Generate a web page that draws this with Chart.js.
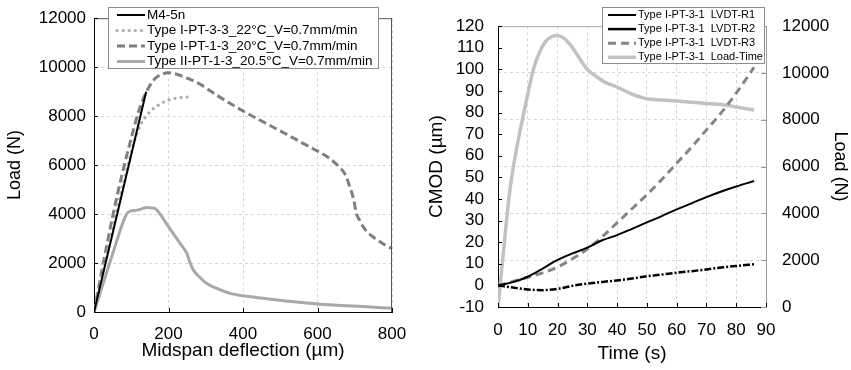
<!DOCTYPE html>
<html>
<head>
<meta charset="utf-8">
<script src="https://cdn.jsdelivr.net/npm/chart.js@4"></script>
<style>
  body { margin: 0; background: #fff; }
  #wrap { position: relative; width: 851px; height: 370px; }
  #leftBox { position: absolute; left: 0; top: 0; }
  #rightBox { position: absolute; left: 420px; top: 0; }
</style>
</head>
<body>
<div id="wrap">
  <div id="leftBox"><canvas id="loadChart" width="430" height="370"></canvas></div>
  <div id="rightBox"><canvas id="cmodChart" width="431" height="370"></canvas></div>
</div>
<script>
// ---- left panel: load vs midspan deflection ----
const deflTicks = [0, 200, 400, 600, 800];
const loadTicks = [0, 2000, 4000, 6000, 8000, 10000, 12000];

const m45nDefl = [0, 140];
const m45nLoad = [0, 9000];

const pt33Defl = [0, 20, 50, 80, 110, 125, 140, 155, 170, 190, 210, 230, 252];
const pt33Load = [0, 1400, 3400, 5300, 7050, 7650, 8000, 8250, 8420, 8600, 8700, 8750, 8780];

const pt13Defl = [0, 25, 50, 75, 100, 120, 135, 150, 165, 180, 200, 220, 250, 285, 330, 400, 450, 508, 560, 598, 630, 660, 675, 687, 697, 705, 715, 723, 735, 750, 770, 785, 800];
const pt13Load = [0, 2000, 3900, 5600, 7100, 8200, 8800, 9250, 9550, 9700, 9770, 9720, 9550, 9300, 8850, 8210, 7800, 7330, 6900, 6590, 6300, 5900, 5600, 5100, 4600, 4000, 3700, 3470, 3250, 3060, 2850, 2700, 2590];

const pt2Defl = [0, 20, 40, 60, 80, 90, 100, 115, 130, 140, 155, 165, 177, 195, 213, 231, 249, 258, 267, 285, 302, 330, 365, 401, 454, 508, 570, 642, 720, 800];
const pt2Load = [0, 950, 1900, 2850, 3750, 4050, 4130, 4160, 4220, 4270, 4250, 4220, 4010, 3600, 3200, 2800, 2400, 2000, 1710, 1400, 1170, 960, 760, 660, 557, 460, 370, 285, 220, 150];

// ---- right panel: CMOD / load vs time ----
const timeTicks = [0, 10, 20, 30, 40, 50, 60, 70, 80, 90];
const cmodTicks = [-10, 0, 10, 20, 30, 40, 50, 60, 70, 80, 90, 100, 110, 120];
const rightLoadTicks = [0, 2000, 4000, 6000, 8000, 10000, 12000];

const lvdtTime = [0, 5, 10, 15, 20, 25, 30, 35, 40, 45, 50, 55, 60, 65, 70, 75, 80, 86];
const lvdtR1 = [0, 1.5, 4, 7.8, 11.8, 14.8, 17.5, 20.9, 23.3, 26.2, 29.2, 32.1, 35.2, 38.0, 40.9, 43.5, 45.8, 48.3];
const lvdtR2 = [0, -1, -1.9, -2.2, -1.6, -0.2, 0.8, 1.6, 2.3, 3.2, 4.2, 5.0, 5.9, 6.6, 7.4, 8.3, 9.0, 9.8];
const lvdtR3 = [0, 1.8, 3.8, 5.8, 8.5, 12.3, 16.8, 22.5, 29.0, 35.5, 42.0, 49.0, 56.5, 64.0, 72.0, 80.0, 89.0, 101];

const loadTime = [0, 2, 4, 6, 8, 10, 12, 14, 16, 18, 20, 22, 24, 26, 28, 30, 33, 36, 40, 45, 50, 55, 60, 65, 70, 75, 80, 86];
const loadTimeN = [0, 2600, 5000, 6600, 7900, 9100, 10200, 10900, 11350, 11550, 11600, 11500, 11250, 10900, 10500, 10150, 9850, 9600, 9400, 9100, 8900, 8850, 8800, 8750, 8700, 8650, 8550, 8420];

const pts = (xs, ys) => xs.map((x, i) => ({ x: x, y: ys[i] }));
const plain = v => String(v);

// legend drawn as a box inside the plot, like the original figure
const boxLegend = {
  id: 'boxLegend',
  afterDraw(chart, args, o) {
    const ctx = chart.ctx;
    ctx.save();
    ctx.fillStyle = '#fff';
    ctx.fillRect(o.x, o.y, o.w, o.h);
    ctx.strokeStyle = '#8c8c8c';
    ctx.lineWidth = 1;
    ctx.strokeRect(o.x + 0.5, o.y + 0.5, o.w, o.h);
    ctx.font = o.font;
    ctx.textBaseline = 'middle';
    chart.data.datasets.forEach((ds, i) => {
      const y = o.y + o.top + i * o.row;
      ctx.save();
      ctx.strokeStyle = ds.borderColor;
      ctx.lineWidth = ds.borderWidth;
      ctx.setLineDash(ds.legendDash || ds.borderDash || []);
      ctx.lineCap = ds.borderCapStyle || 'butt';
      ctx.beginPath();
      ctx.moveTo(o.x + o.lineX0, y);
      ctx.lineTo(o.x + o.lineX1, y);
      ctx.stroke();
      ctx.restore();
      ctx.fillStyle = '#000';
      ctx.fillText(ds.label, o.x + o.textX, y);
    });
    ctx.restore();
  }
};

// top/right frame and the small inward tick marks
const frameTicks = {
  id: 'frameTicks',
  afterDatasetsDraw(chart, args, o) {
    const { ctx, chartArea: a } = chart;
    ctx.save();
    ctx.lineWidth = 1;
    ctx.strokeStyle = o.frameColor;
    ctx.beginPath();
    ctx.moveTo(a.left, a.top + 0.5);
    ctx.lineTo(a.right, a.top + 0.5);
    if (o.rightEdge) {
      ctx.moveTo(a.right - 0.5, a.top);
      ctx.lineTo(a.right - 0.5, a.bottom);
    }
    ctx.stroke();
    (o.marks || []).forEach(m => {
      const s = chart.scales[m.id];
      ctx.strokeStyle = m.color || '#000';
      ctx.beginPath();
      s.ticks.forEach(t => {
        const p = Math.round(s.getPixelForValue(t.value)) + 0.5;
        if (m.side === 'left') { ctx.moveTo(a.left, p); ctx.lineTo(a.left + m.len, p); }
        else if (m.side === 'right') { ctx.moveTo(a.right, p); ctx.lineTo(a.right - m.len, p); }
        else { ctx.moveTo(p, a.bottom); ctx.lineTo(p, a.bottom - m.len); }
      });
      ctx.stroke();
    });
    ctx.restore();
  }
};

const FONT = '"Liberation Sans", Arial, sans-serif';
const gridStyle = { color: '#d6d6d6', drawTicks: false };

new Chart(document.getElementById('loadChart'), {
  type: 'line',
  data: {
    datasets: [{
      label: 'M4-5n',
      data: pts(m45nDefl, m45nLoad),
      borderColor: '#000',
      borderWidth: 2
    }, {
      label: 'Type I-PT-3-3_22°C_V=0.7mm/min',
      data: pts(pt33Defl, pt33Load),
      borderColor: '#adadad',
      borderWidth: 3.2,
      borderDash: [0.1, 6],
      borderCapStyle: 'round'
    }, {
      label: 'Type I-PT-1-3_20°C_V=0.7mm/min',
      data: pts(pt13Defl, pt13Load),
      borderColor: '#7f7f7f',
      borderWidth: 3,
      borderDash: [8, 4]
    }, {
      label: 'Type II-PT-1-3_20.5°C_V=0.7mm/min',
      data: pts(pt2Defl, pt2Load),
      borderColor: '#a8a8a8',
      borderWidth: 3
    }]
  },
  options: {
    responsive: false,
    animation: false,
    devicePixelRatio: 1,
    layout: { padding: { top: 17, right: 38, left: 0, bottom: 0 } },
    elements: { point: { radius: 0 }, line: { cubicInterpolationMode: 'monotone', fill: false } },
    scales: {
      x: {
        type: 'linear', min: 0, max: 800,
        afterBuildTicks: s => { s.ticks = deflTicks.map(v => ({ value: v })); },
        afterFit: s => { s.height = 58; },
        grid: gridStyle,
        border: { color: '#000', dash: [3, 3] },
        ticks: { color: '#000', padding: 12, maxRotation: 0, autoSkip: false, callback: plain, font: { family: FONT, size: 17 } },
        title: { display: true, text: 'Midspan deflection (µm)', color: '#000', padding: { top: 0, bottom: 8 }, font: { family: FONT, size: 19 } }
      },
      y: {
        min: 0, max: 12000,
        afterBuildTicks: s => { s.ticks = loadTicks.map(v => ({ value: v })); },
        afterFit: s => { s.width = 94; },
        grid: gridStyle,
        border: { color: '#000', dash: [3, 3] },
        ticks: { color: '#000', padding: 8, autoSkip: false, callback: plain, font: { family: FONT, size: 17 } },
        title: { display: true, text: 'Load (N)', color: '#000', padding: { top: 4, bottom: 0 }, font: { family: FONT, size: 18 } }
      }
    },
    plugins: {
      legend: { display: false },
      tooltip: { enabled: false },
      boxLegend: { x: 108, y: 7, w: 270, h: 61, top: 8, row: 15.5, lineX0: 9, lineX1: 37, textX: 39, font: '13.5px ' + FONT },
      frameTicks: {
        frameColor: '#555', rightEdge: true,
        marks: [{ id: 'y', side: 'left', len: 4 }, { id: 'x', side: 'bottom', len: 4 }]
      }
    }
  },
  plugins: [frameTicks, boxLegend]
});

new Chart(document.getElementById('cmodChart'), {
  type: 'line',
  data: {
    datasets: [{
      label: 'Type I-PT-3-1  LVDT-R1',
      data: pts(lvdtTime, lvdtR1),
      borderColor: '#000',
      borderWidth: 2,
      yAxisID: 'y'
    }, {
      label: 'Type I-PT-3-1  LVDT-R2',
      data: pts(lvdtTime, lvdtR2),
      borderColor: '#000',
      borderWidth: 2.5,
      borderDash: [7, 2, 2, 2],
      legendDash: [],
      yAxisID: 'y'
    }, {
      label: 'Type I-PT-3-1  LVDT-R3',
      data: pts(lvdtTime, lvdtR3),
      borderColor: '#858585',
      borderWidth: 3,
      borderDash: [8, 5],
      yAxisID: 'y'
    }, {
      label: 'Type I-PT-3-1  Load-Time',
      data: pts(loadTime, loadTimeN),
      borderColor: '#c2c2c2',
      borderWidth: 3.5,
      yAxisID: 'y2'
    }]
  },
  options: {
    responsive: false,
    animation: false,
    devicePixelRatio: 1,
    layout: { padding: { top: 17, right: 0, left: 0, bottom: 0 } },
    elements: { point: { radius: 0 }, line: { cubicInterpolationMode: 'monotone', fill: false } },
    scales: {
      x: {
        type: 'linear', min: 0, max: 90,
        afterBuildTicks: s => { s.ticks = timeTicks.map(v => ({ value: v })); },
        afterFit: s => { s.height = 63; },
        grid: gridStyle,
        border: { color: '#000', dash: [3, 3] },
        ticks: { color: '#000', padding: 13, maxRotation: 0, autoSkip: false, callback: plain, font: { family: FONT, size: 17 } },
        title: { display: true, text: 'Time (s)', color: '#000', padding: { top: 0, bottom: 5 }, font: { family: FONT, size: 19 } }
      },
      y: {
        position: 'left', min: -10, max: 120,
        afterBuildTicks: s => { s.ticks = cmodTicks.map(v => ({ value: v })); },
        afterFit: s => { s.width = 78; },
        grid: { display: false, drawTicks: false },
        border: { color: '#000' },
        ticks: { color: '#000', padding: 14, autoSkip: false, callback: plain, font: { family: FONT, size: 17 } },
        title: { display: true, text: 'CMOD (µm)', color: '#000', padding: { top: 5, bottom: 0 }, font: { family: FONT, size: 19 } }
      },
      y2: {
        position: 'right', min: 0, max: 12000,
        afterBuildTicks: s => { s.ticks = rightLoadTicks.map(v => ({ value: v })); },
        afterFit: s => { s.width = 85; },
        grid: gridStyle,
        border: { color: '#9a9a9a', dash: [3, 3] },
        ticks: { color: '#000', padding: 16, autoSkip: false, callback: plain, font: { family: FONT, size: 17 } },
        title: { display: true, text: 'Load (N)', color: '#000', padding: { top: 0, bottom: 0 }, font: { family: FONT, size: 18 } }
      }
    },
    plugins: {
      legend: { display: false },
      tooltip: { enabled: false },
      boxLegend: { x: 182, y: 7, w: 162, h: 56, top: 8, row: 14.1, lineX0: 6, lineX1: 34, textX: 36, font: '11px ' + FONT },
      frameTicks: {
        frameColor: '#aaaaaa', rightEdge: false,
        marks: [{ id: 'y', side: 'left', len: 4 }, { id: 'x', side: 'bottom', len: 4 }, { id: 'y2', side: 'right', len: 5, color: '#9a9a9a' }]
      }
    }
  },
  plugins: [frameTicks, boxLegend]
});
</script>
</body>
</html>
